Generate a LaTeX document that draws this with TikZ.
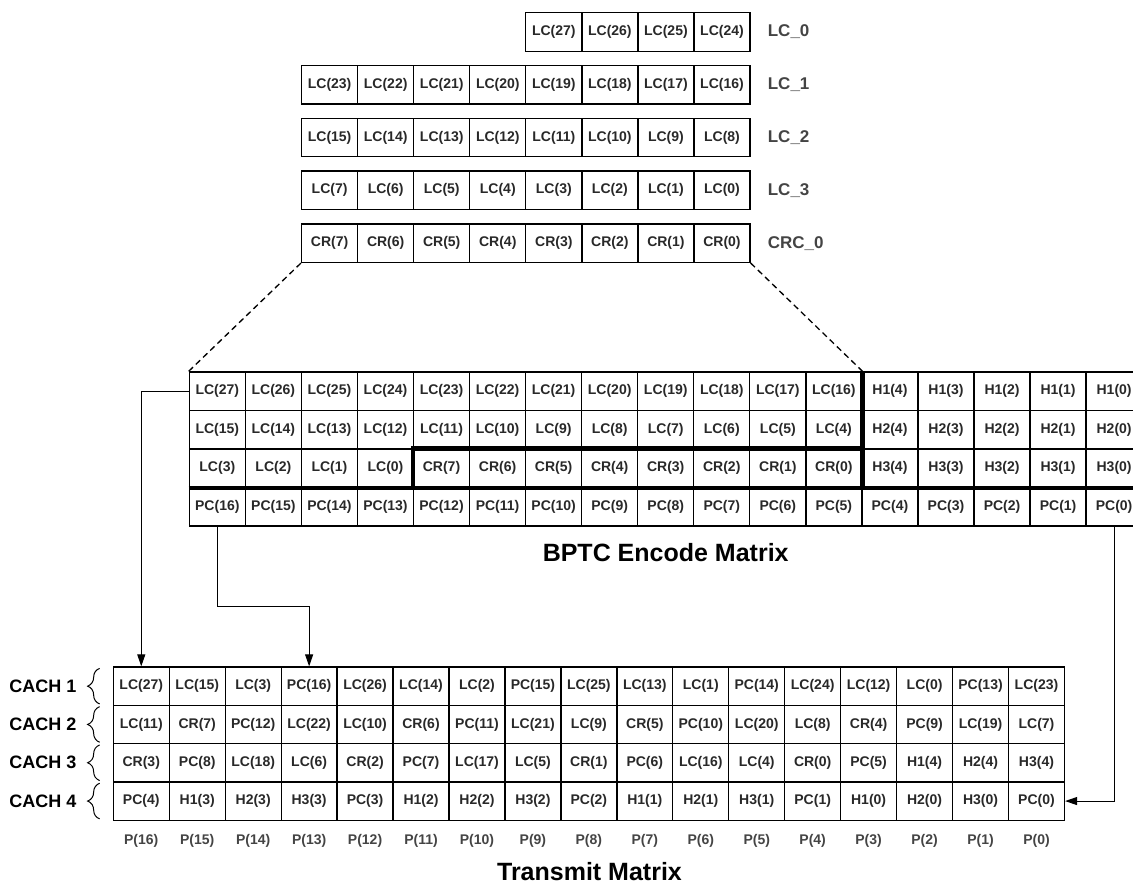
\documentclass[tikz,border=0pt]{standalone}
\usepackage{fontspec}
\setmainfont{Liberation Sans}
\usepackage{xcolor}
\usetikzlibrary{positioning,arrows.meta,decorations.pathreplacing,calc}

\definecolor{celltext}{RGB}{40,40,40}
\definecolor{labgrey}{RGB}{68,68,68}

\begin{document}
\begin{tikzpicture}[
  x=1pt, y=-1pt,
  cell/.style={draw, line width=1.3pt, minimum width=56.05pt, minimum height=38.5pt, inner sep=0pt, text=celltext, font=\bfseries\fontsize{14}{16}\selectfont},
  tcell/.style={cell, minimum width=55.95pt, minimum height=38.3pt},
  rowlab/.style={text=labgrey, inner sep=0pt, font=\bfseries\fontsize{17}{20}\selectfont},
  cachlab/.style={inner sep=0pt, font=\bfseries\fontsize{18}{21}\selectfont},
  plab/.style={text=labgrey, font=\bfseries\fontsize{14}{16}\selectfont},
  mtitle/.style={inner sep=0pt, font=\bfseries\fontsize{25}{30}\selectfont},
  thickline/.style={line width=4.5pt},
  dashline/.style={dash pattern=on 6pt off 4pt, line width=1.3pt},
  arr/.style={-{Triangle[length=12pt,width=8pt]}, line width=1pt},
  brace/.style={decorate, decoration={brace, amplitude=12pt}, line width=1pt}
]
\useasboundingbox (0,0) rectangle (1133,884);

% input words
\foreach \t [count=\i from 0] in {LC(27),LC(26),LC(25),LC(24)}
  \node[cell] (c-0-\i) at ({553.825+\i*56.05}, 31.95) {\t};
\foreach \t [count=\i from 0] in {LC(23),LC(22),LC(21),LC(20),LC(19),LC(18),LC(17),LC(16)}
  \node[cell] (c-1-\i) at ({329.625+\i*56.05}, 84.75) {\t};
\foreach \t [count=\i from 0] in {LC(15),LC(14),LC(13),LC(12),LC(11),LC(10),LC(9),LC(8)}
  \node[cell] (c-2-\i) at ({329.625+\i*56.05}, 137.55) {\t};
\foreach \t [count=\i from 0] in {LC(7),LC(6),LC(5),LC(4),LC(3),LC(2),LC(1),LC(0)}
  \node[cell] (c-3-\i) at ({329.625+\i*56.05}, 190.35) {\t};
\foreach \t [count=\i from 0] in {CR(7),CR(6),CR(5),CR(4),CR(3),CR(2),CR(1),CR(0)}
  \node[cell] (c-4-\i) at ({329.625+\i*56.05}, 243.15) {\t};

\node[rowlab, right=17pt of c-0-3] (lab-0) {LC\_0};
\node[rowlab, right=17pt of c-1-7] (lab-1) {LC\_1};
\node[rowlab, right=17pt of c-2-7] (lab-2) {LC\_2};
\node[rowlab, right=17pt of c-3-7] (lab-3) {LC\_3};
\node[rowlab, right=17pt of c-4-7] (lab-4) {CRC\_0};

% BPTC encode matrix
\foreach \t [count=\i from 0] in {LC(27),LC(26),LC(25),LC(24),LC(23),LC(22),LC(21),LC(20),LC(19),LC(18),LC(17),LC(16),H1(4),H1(3),H1(2),H1(1),H1(0)}
  \node[cell] (m-0-\i) at ({217.325+\i*56.05}, 391.25) {\t};
\foreach \t [count=\i from 0] in {LC(15),LC(14),LC(13),LC(12),LC(11),LC(10),LC(9),LC(8),LC(7),LC(6),LC(5),LC(4),H2(4),H2(3),H2(2),H2(1),H2(0)}
  \node[cell] (m-1-\i) at ({217.325+\i*56.05}, 429.75) {\t};
\foreach \t [count=\i from 0] in {LC(3),LC(2),LC(1),LC(0),CR(7),CR(6),CR(5),CR(4),CR(3),CR(2),CR(1),CR(0),H3(4),H3(3),H3(2),H3(1),H3(0)}
  \node[cell] (m-2-\i) at ({217.325+\i*56.05}, 468.25) {\t};
\foreach \t [count=\i from 0] in {PC(16),PC(15),PC(14),PC(13),PC(12),PC(11),PC(10),PC(9),PC(8),PC(7),PC(6),PC(5),PC(4),PC(3),PC(2),PC(1),PC(0)}
  \node[cell] (m-3-\i) at ({217.325+\i*56.05}, 506.75) {\t};

\draw[thickline] (m-0-11.north east) -- (m-2-11.south east);
\draw[thickline] (m-2-0.south west) -- (m-2-16.south east);
\draw[thickline] (m-2-4.south west) |- (m-2-11.north east);

\draw[dashline] (c-4-0.south west) -- (m-0-0.north west);
\draw[dashline] (c-4-7.south east) -- (m-0-11.north east);

\node[mtitle, anchor=base] (enc) at (665.7, 561.7) {BPTC Encode Matrix};

% transmit matrix
\foreach \t [count=\i from 0] in {LC(27),LC(15),LC(3),PC(16),LC(26),LC(14),LC(2),PC(15),LC(25),LC(13),LC(1),PC(14),LC(24),LC(12),LC(0),PC(13),LC(23)}
  \node[tcell] (t-0-\i) at ({141.275+\i*55.95}, 686.15) {\t};
\foreach \t [count=\i from 0] in {LC(11),CR(7),PC(12),LC(22),LC(10),CR(6),PC(11),LC(21),LC(9),CR(5),PC(10),LC(20),LC(8),CR(4),PC(9),LC(19),LC(7)}
  \node[tcell] (t-1-\i) at ({141.275+\i*55.95}, 724.45) {\t};
\foreach \t [count=\i from 0] in {CR(3),PC(8),LC(18),LC(6),CR(2),PC(7),LC(17),LC(5),CR(1),PC(6),LC(16),LC(4),CR(0),PC(5),H1(4),H2(4),H3(4)}
  \node[tcell] (t-2-\i) at ({141.275+\i*55.95}, 762.75) {\t};
\foreach \t [count=\i from 0] in {PC(4),H1(3),H2(3),H3(3),PC(3),H1(2),H2(2),H3(2),PC(2),H1(1),H2(1),H3(1),PC(1),H1(0),H2(0),H3(0),PC(0)}
  \node[tcell] (t-3-\i) at ({141.275+\i*55.95}, 801.05) {\t};

\foreach \i [evaluate=\i as \j using int(16-\i)] in {0,...,16}
  \node[plab] (p-\i) at ([yshift=-20pt]t-3-\i.south) {P(\j)};

\foreach \r [evaluate=\r as \n using int(\r+1)] in {0,...,3} {
  \draw[brace] ([xshift=-13pt,yshift=2pt]t-\r-0.south west) -- ([xshift=-13pt,yshift=-2pt]t-\r-0.north west);
  \node[cachlab, anchor=east] (cach-\r) at ([xshift=-36pt]t-\r-0.west) {CACH \n};
}

\node[mtitle, anchor=base] (tx) at (589.5, 880) {Transmit Matrix};

% interleaving examples
\draw[arr] (m-0-0.west) -| (t-0-0.north);
\draw[arr] (m-3-0.south) |- ([yshift=60pt]t-0-3.north) -- (t-0-3.north);
\draw[arr] (m-3-16.south) |- (t-3-16.east);
\end{tikzpicture}
\end{document}
